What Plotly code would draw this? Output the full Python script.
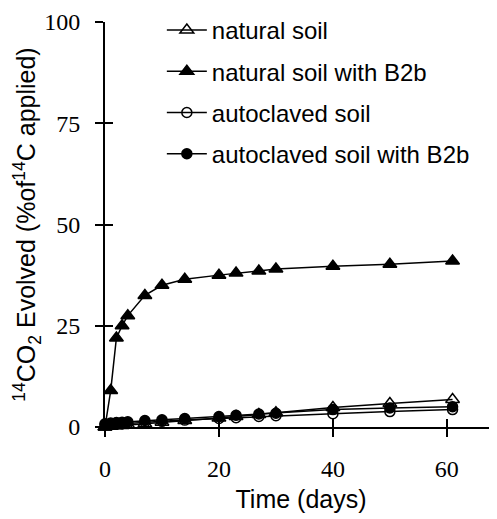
import plotly.graph_objects as go

days = [0, 1, 2, 3, 4, 7, 10, 14, 20, 23, 27, 30, 40, 50, 61]
natural_soil = [0, 0.2, 0.3, 0.4, 0.5, 0.8, 1.2, 1.6, 2.2, 2.6, 3.1, 3.5, 4.8, 5.8, 6.8]
natural_soil_b2b = [0, 9, 22, 25, 27.5, 32.5, 35, 36.5, 37.5, 38, 38.5, 39, 39.7, 40.2, 41]
autoclaved_soil = [0.5, 0.6, 0.7, 0.8, 0.9, 1.2, 1.4, 1.7, 2.1, 2.3, 2.6, 2.8, 3.3, 3.8, 4.3]
autoclaved_soil_b2b = [0.8, 1.0, 1.1, 1.2, 1.3, 1.6, 1.8, 2.1, 2.6, 2.9, 3.2, 3.4, 4.3, 4.7, 5.0]

series = [
    ("natural soil", natural_soil, "triangle-up-open", 12),
    ("natural soil with B2b", natural_soil_b2b, "triangle-up", 12),
    ("autoclaved soil", autoclaved_soil, "circle-open", 10),
    ("autoclaved soil with B2b", autoclaved_soil_b2b, "circle", 10),
]

x_ticks = [0, 20, 40, 60]
y_ticks = [0, 25, 50, 75, 100]

fig = go.Figure()
for i, (name, vals, sym, sz) in enumerate(series):
    fig.add_trace(go.Scatter(
        x=days, y=vals, name=name, mode="lines+markers",
        line=dict(color="black", width=1.5),
        marker=dict(symbol=sym, size=sz, color="black",
                    line=dict(color="black", width=1.5)),
        cliponaxis=False, legendgroup=str(i),
    ))

fig.add_trace(go.Scatter(x=[None], y=[None], xaxis="x2", yaxis="y2",
                         showlegend=False, hoverinfo="skip"))

XR = [0, 68.8]
YR = [0, 100]
serif = "Liberation Serif, Times New Roman, serif"
sans = "Liberation Sans"

fig.update_layout(
    width=489, height=511,
    margin=dict(l=97, r=0, t=14, b=92),
    paper_bgcolor="white", plot_bgcolor="white",
    font=dict(family=sans, size=24, color="black"),
    showlegend=True,
    legend=dict(x=0.145, y=1.035, xanchor="left", yanchor="top",
                font=dict(family=sans, size=24, color="black"),
                bgcolor="rgba(0,0,0,0)", tracegroupgap=7, itemwidth=40),
    xaxis=dict(range=XR, tickvals=x_ticks, ticktext=[str(v) for v in x_ticks],
               showgrid=False, zeroline=False, showline=True, linecolor="black",
               linewidth=2, ticks="outside", ticklen=8, tickwidth=2, tickcolor="black",
               tickfont=dict(family=serif, size=24, color="black"),
               ticklabelstandoff=11, automargin=False,
               title=dict(text="Time (days)", font=dict(family=sans, size=25, color="black"),
                          standoff=10)),
    yaxis=dict(range=YR, tickvals=y_ticks, ticktext=[str(v) for v in y_ticks],
               showgrid=False, zeroline=False, showline=True, linecolor="black",
               linewidth=2, ticks="outside", ticklen=8, tickwidth=2, tickcolor="black",
               tickfont=dict(family=serif, size=24, color="black"),
               ticklabelstandoff=10, automargin=False,
               title=dict(text="<sup>14</sup>CO<sub>2</sub> Evolved (%of<sup>14</sup>C applied)",
                          font=dict(family=sans, size=25, color="black"), standoff=1)),
    xaxis2=dict(range=XR, overlaying="x", tickvals=x_ticks, showticklabels=False,
                showgrid=False, zeroline=False, showline=False, ticks="inside",
                ticklen=8, tickwidth=2, tickcolor="black", side="bottom", automargin=False),
    yaxis2=dict(range=YR, overlaying="y", tickvals=y_ticks, showticklabels=False,
                showgrid=False, zeroline=False, showline=False, ticks="inside",
                ticklen=8, tickwidth=2, tickcolor="black", side="left", automargin=False),
)

fig.write_html("out.html")
